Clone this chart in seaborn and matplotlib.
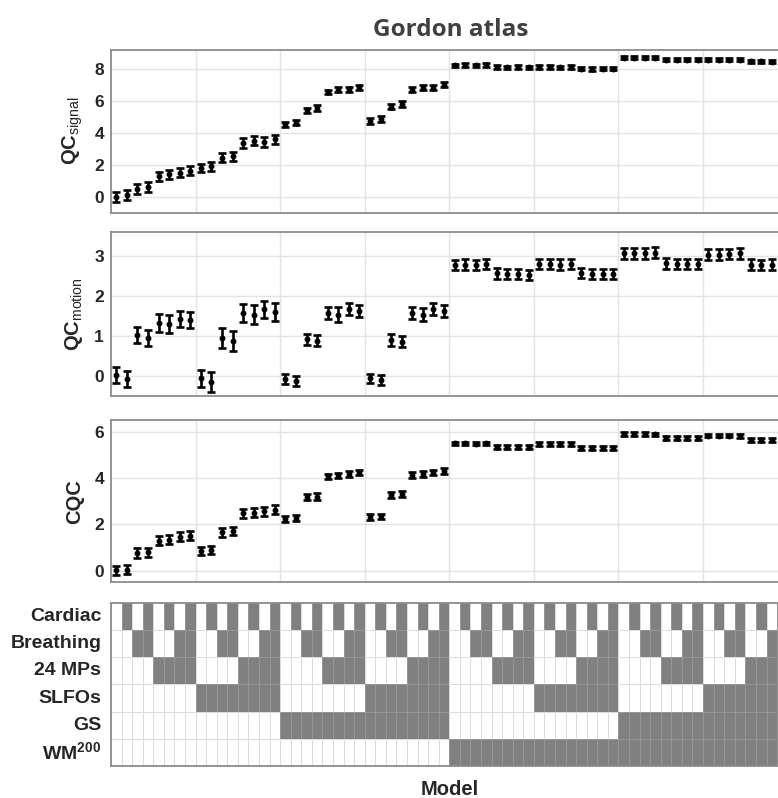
import numpy as np
import pandas as pd
import matplotlib
matplotlib.use("Agg")
import matplotlib.pyplot as plt
import seaborn as sns

# ---- data -------------------------------------------------------------
models = list(range(1, 65))

qc_signal = [0.00, 0.09, 0.48, 0.61, 1.28, 1.40, 1.49, 1.63, 1.80, 1.91, 2.45, 2.55, 3.37, 3.52, 3.43, 3.60,
             4.54, 4.65, 5.42, 5.55, 6.57, 6.70, 6.74, 6.87, 4.75, 4.86, 5.65, 5.80, 6.70, 6.84, 6.84, 7.01,
             8.25, 8.26, 8.25, 8.26, 8.13, 8.12, 8.13, 8.12, 8.13, 8.13, 8.12, 8.13, 8.02, 8.01, 8.02, 8.02,
             8.71, 8.72, 8.71, 8.71, 8.60, 8.60, 8.59, 8.60, 8.59, 8.60, 8.59, 8.59, 8.48, 8.48, 8.47, 8.48]
qc_signal_err = [0.30, 0.30, 0.30, 0.30, 0.30, 0.30, 0.28, 0.28, 0.28, 0.28, 0.28, 0.28, 0.30, 0.30, 0.30, 0.30,
                 0.17, 0.17, 0.17, 0.17, 0.15, 0.15, 0.15, 0.15, 0.17, 0.17, 0.17, 0.17, 0.15, 0.15, 0.15, 0.15,
                 0.10, 0.10, 0.10, 0.10, 0.10, 0.10, 0.10, 0.10, 0.10, 0.10, 0.10, 0.10, 0.10, 0.10, 0.10, 0.10,
                 0.10, 0.10, 0.10, 0.10, 0.10, 0.10, 0.10, 0.10, 0.10, 0.10, 0.10, 0.10, 0.10, 0.10, 0.10, 0.10]

qc_motion = [0.02, -0.08, 1.02, 0.94, 1.33, 1.30, 1.43, 1.40, -0.06, -0.14, 0.96, 0.88, 1.58, 1.54, 1.67, 1.61,
             -0.08, -0.12, 0.92, 0.88, 1.58, 1.54, 1.67, 1.63, -0.06, -0.10, 0.90, 0.86, 1.58, 1.54, 1.67, 1.63,
             2.78, 2.79, 2.78, 2.80, 2.57, 2.55, 2.56, 2.53, 2.80, 2.80, 2.79, 2.80, 2.58, 2.55, 2.56, 2.55,
             3.07, 3.07, 3.07, 3.09, 2.82, 2.80, 2.80, 2.80, 3.04, 3.04, 3.05, 3.07, 2.79, 2.78, 2.79, 2.78]
qc_motion_err = [0.20, 0.20, 0.20, 0.20, 0.22, 0.22, 0.20, 0.20, 0.22, 0.25, 0.25, 0.25, 0.22, 0.24, 0.22, 0.22,
                 0.12, 0.12, 0.14, 0.14, 0.16, 0.18, 0.15, 0.15, 0.12, 0.12, 0.14, 0.14, 0.15, 0.16, 0.15, 0.15,
                 0.13, 0.13, 0.13, 0.13, 0.13, 0.13, 0.13, 0.13, 0.13, 0.13, 0.13, 0.13, 0.13, 0.13, 0.13, 0.13,
                 0.13, 0.13, 0.13, 0.13, 0.13, 0.13, 0.13, 0.13, 0.13, 0.13, 0.13, 0.13, 0.13, 0.13, 0.13, 0.13]

cqc = [0.02, 0.05, 0.76, 0.79, 1.29, 1.34, 1.47, 1.51, 0.86, 0.88, 1.65, 1.70, 2.47, 2.51, 2.56, 2.63,
       2.23, 2.27, 3.16, 3.20, 4.07, 4.11, 4.18, 4.24, 2.31, 2.34, 3.28, 3.32, 4.12, 4.18, 4.24, 4.30,
       5.49, 5.49, 5.48, 5.49, 5.33, 5.33, 5.32, 5.33, 5.47, 5.47, 5.46, 5.47, 5.30, 5.30, 5.30, 5.30,
       5.89, 5.89, 5.89, 5.88, 5.72, 5.72, 5.71, 5.72, 5.83, 5.83, 5.83, 5.82, 5.65, 5.65, 5.64, 5.65]
cqc_err = [0.20, 0.20, 0.20, 0.20, 0.20, 0.20, 0.20, 0.20, 0.17, 0.17, 0.18, 0.18, 0.20, 0.20, 0.20, 0.20,
           0.12, 0.12, 0.13, 0.13, 0.12, 0.12, 0.12, 0.12, 0.12, 0.12, 0.13, 0.13, 0.12, 0.12, 0.12, 0.12,
           0.08, 0.08, 0.08, 0.08, 0.08, 0.08, 0.08, 0.08, 0.08, 0.08, 0.08, 0.08, 0.08, 0.08, 0.08, 0.08,
           0.08, 0.08, 0.08, 0.08, 0.08, 0.08, 0.08, 0.08, 0.08, 0.08, 0.08, 0.08, 0.08, 0.08, 0.08, 0.08]

# confound regressors included in each model (1 = included)
regressor_names = ["Cardiac", "Breathing", "24 MPs", "SLFOs", "GS", r"WM$^{\mathbf{200}}$"]
regressor_rows = [
    "0101010101010101010101010101010101010101010101010101010101010101",
    "0011001100110011001100110011001100110011001100110011001100110011",
    "0000111100001111000011110000111100001111000011110000111100001111",
    "0000000011111111000000001111111100000000111111110000000011111111",
    "0000000000000000111111111111111100000000000000001111111111111111",
    "0000000000000000000000000000000011111111111111111111111111111111",
]

# ---- style ------------------------------------------------------------
sns.set_theme(style="whitegrid")
plt.rcParams["font.family"] = ["Liberation Sans", "DejaVu Sans"]
plt.rcParams["mathtext.fontset"] = "custom"
plt.rcParams["mathtext.rm"] = "Liberation Sans"
plt.rcParams["mathtext.bf"] = "Liberation Sans:bold"
plt.rcParams["mathtext.it"] = "Liberation Sans:italic"

text_color = "#262626"
spine_color = "#8c8c8c"
grid_color = "#e3e3e3"

fig = plt.figure(figsize=(7.78, 7.98), dpi=100)

left, width = 0.1427, 0.8697
panel_specs = [
    (0.7335, 0.2039, qc_signal, qc_signal_err, r"QC$_{\mathrm{signal}}$", (-1.0, 9.2), [0, 2, 4, 6, 8]),
    (0.5038, 0.2051, qc_motion, qc_motion_err, r"QC$_{\mathrm{motion}}$", (-0.5, 3.6), [0, 1, 2, 3]),
    (0.2703, 0.2034, cqc, cqc_err, "CQC", (-0.5, 6.5), [0, 2, 4, 6]),
]

x_idx = np.arange(len(models))
group_edges = np.arange(7.5, 64, 8)

for bottom, height, vals, errs, label, ylim, yticks in panel_specs:
    ax = fig.add_axes([left, bottom, width, height])
    df = pd.DataFrame({"x": x_idx, "y": vals, "err": errs})
    ax.errorbar(df["x"], df["y"], yerr=df["err"], fmt="none", ecolor="black",
                elinewidth=1.9, capsize=2.8, capthick=1.9, zorder=3)
    sns.scatterplot(data=df, x="x", y="y", ax=ax, color="black", s=18,
                    edgecolor="black", linewidth=0, zorder=4, legend=False)
    ax.set_xlim(-0.5, 63.5)
    ax.set_ylim(*ylim)
    ax.set_yticks(yticks)
    ax.set_xticks(group_edges)
    ax.set_xticklabels([])
    ax.set_xlabel("")
    ax.set_ylabel(label, fontsize=14.5, fontweight="bold", color=text_color, labelpad=7)
    ax.grid(True, color=grid_color, linewidth=1.0)
    ax.tick_params(axis="y", direction="in", length=5, width=1.2, color=spine_color,
                   labelsize=12.5, labelcolor=text_color, pad=5)
    ax.tick_params(axis="x", length=0)
    for t in ax.get_yticklabels():
        t.set_fontweight("bold")
    for s in ax.spines.values():
        s.set_color(spine_color)
        s.set_linewidth(1.3)
        s.set_visible(True)

# ---- design matrix ----------------------------------------------------
design = pd.DataFrame([[int(c) for c in row] for row in regressor_rows],
                      index=regressor_names, columns=models)
axm = fig.add_axes([left, 0.0405, width, 0.2035])
sns.heatmap(design, ax=axm, cmap=["#ffffff", "#808080"], cbar=False,
            linewidths=0.6, linecolor=(0.7, 0.7, 0.7, 0.45), square=False)
axm.set_xlim(0, 64)
axm.set_xticks([])
axm.set_xlabel("Model", fontsize=14.5, fontweight="bold", color=text_color, labelpad=10)
axm.set_ylabel("")
axm.tick_params(axis="y", length=0, labelsize=14, labelcolor=text_color, pad=7)
for t in axm.get_yticklabels():
    t.set_fontweight("bold")
    t.set_rotation(0)
for s in axm.spines.values():
    s.set_visible(True)
    s.set_color(spine_color)
    s.set_linewidth(1.3)

fig.suptitle("Gordon atlas", x=0.579, y=0.977, fontsize=17.5, fontweight="bold",
             color="#404040", family=["Open Sans", "DejaVu Sans"])

fig.savefig("out.png", dpi=100)
